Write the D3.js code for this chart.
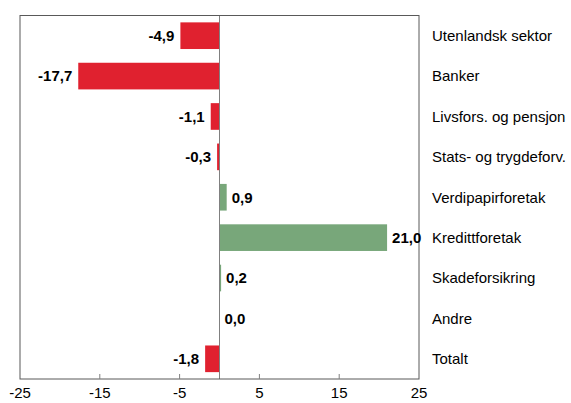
<!DOCTYPE html>
<html>
<head>
<meta charset="utf-8">
<script src="https://cdn.jsdelivr.net/npm/d3@7"></script>
<style>
  body { margin: 0; background: #fff; }
  svg { display: block; font-family: "Liberation Sans", Arial, sans-serif; }
</style>
</head>
<body>
<div id="chart"></div>
<script>
const categories = [
    'Utenlandsk sektor', 'Banker', 'Livsfors. og pensjon', 'Stats- og trygdeforv.',
    'Verdipapirforetak', 'Kredittforetak', 'Skadeforsikring', 'Andre', 'Totalt'
];
const values = [-4.9, -17.7, -1.1, -0.3, 0.9, 21.0, 0.2, 0.0, -1.8];
const xTicks = [-25, -15, -5, 5, 15, 25];

const width = 571, height = 403;
const margin = { top: 15.5, left: 20, right: 152, bottom: 24 };

const svg = d3.select('#chart').append('svg')
    .attr('width', width)
    .attr('height', height);

const x = d3.scaleLinear().domain([-25, 25]).range([margin.left, width - margin.right]);
const y = d3.scaleBand().domain(categories)
    .range([margin.top, height - margin.bottom])
    .paddingInner(0.34).paddingOuter(0.17);

const fmt = v => v.toFixed(1).replace('.', ',');

// bars
svg.selectAll('rect.bar')
    .data(values)
    .enter()
    .append('rect')
    .attr('class', 'bar')
    .attr('x', d => x(Math.min(0, d)))
    .attr('y', (d, i) => y(categories[i]))
    .attr('width', d => Math.abs(x(d) - x(0)))
    .attr('height', y.bandwidth())
    .attr('fill', d => d < 0 ? '#e0212f' : '#78a77a');

// zero line
svg.append('line')
    .attr('x1', x(0)).attr('x2', x(0))
    .attr('y1', margin.top).attr('y2', height - margin.bottom)
    .attr('stroke', '#808080');

// frame
svg.append('rect')
    .attr('x', x(-25)).attr('y', margin.top)
    .attr('width', x(25) - x(-25))
    .attr('height', height - margin.bottom - margin.top)
    .attr('fill', 'none')
    .attr('stroke', '#595959');

// x axis ticks (pointing inward) and labels
const axisY = height - margin.bottom;
svg.selectAll('line.tick')
    .data(xTicks.slice(1, -1))
    .enter()
    .append('line')
    .attr('x1', d => x(d)).attr('x2', d => x(d))
    .attr('y1', axisY).attr('y2', axisY - 5)
    .attr('stroke', '#808080');

svg.selectAll('text.xlab')
    .data(xTicks)
    .enter()
    .append('text')
    .attr('x', d => x(d))
    .attr('y', 398)
    .attr('text-anchor', 'middle')
    .attr('font-size', 15)
    .text(d => d);

// value labels
svg.selectAll('text.val')
    .data(values)
    .enter()
    .append('text')
    .attr('x', d => d < 0 ? x(d) - 6 : x(d) + 5)
    .attr('y', (d, i) => y(categories[i]) + y.bandwidth() / 2)
    .attr('dy', '0.36em')
    .attr('text-anchor', d => d < 0 ? 'end' : 'start')
    .attr('font-size', 15)
    .attr('font-weight', 'bold')
    .text(d => fmt(d));

// category labels
svg.selectAll('text.cat')
    .data(categories)
    .enter()
    .append('text')
    .attr('x', 432)
    .attr('y', d => y(d) + y.bandwidth() / 2)
    .attr('dy', '0.36em')
    .attr('font-size', 15)
    .text(d => d);
</script>
</body>
</html>
